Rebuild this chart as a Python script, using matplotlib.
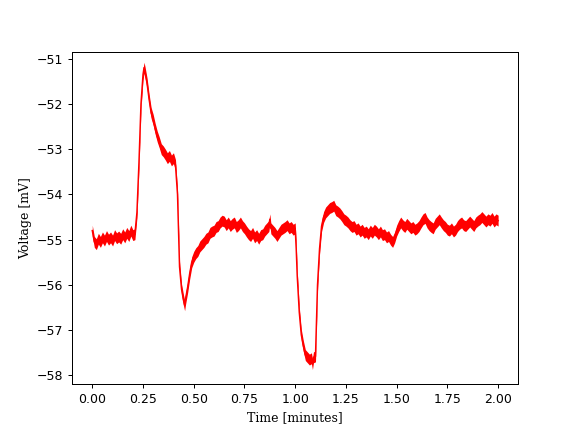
import matplotlib
matplotlib.use("Agg")
import matplotlib.pyplot as plt
import numpy as np

# membrane voltage trace (minutes, mV)
time_min = [
    0.00, 0.01, 0.02, 0.03, 0.04, 0.05, 0.06, 0.07, 0.08, 0.09,
    0.10, 0.11, 0.12, 0.13, 0.14, 0.15, 0.16, 0.17, 0.18, 0.19,
    0.20, 0.21, 0.22, 0.23, 0.24, 0.25, 0.255, 0.26, 0.27, 0.28, 0.29,
    0.30, 0.31, 0.32, 0.33, 0.34, 0.35, 0.36, 0.37, 0.38, 0.39,
    0.40, 0.41, 0.42, 0.43, 0.44, 0.45, 0.455, 0.46, 0.47, 0.48, 0.49,
    0.50, 0.51, 0.52, 0.53, 0.54, 0.55, 0.56, 0.57, 0.58, 0.59,
    0.60, 0.61, 0.62, 0.63, 0.64, 0.65, 0.66, 0.67, 0.68, 0.69,
    0.70, 0.71, 0.72, 0.73, 0.74, 0.75, 0.76, 0.77, 0.78, 0.79,
    0.80, 0.81, 0.82, 0.83, 0.84, 0.85, 0.86, 0.87, 0.875, 0.88, 0.89,
    0.90, 0.91, 0.92, 0.93, 0.94, 0.95, 0.96, 0.97, 0.98, 0.99,
    1.00, 1.005, 1.01, 1.02, 1.03, 1.04, 1.05, 1.06, 1.07, 1.08, 1.085, 1.09,
    1.10, 1.105, 1.11, 1.12, 1.13, 1.14, 1.15, 1.16, 1.17, 1.18, 1.19,
    1.20, 1.21, 1.22, 1.23, 1.24, 1.25, 1.26, 1.27, 1.28, 1.29,
    1.30, 1.31, 1.32, 1.33, 1.34, 1.35, 1.36, 1.37, 1.38, 1.39,
    1.40, 1.41, 1.42, 1.43, 1.44, 1.45, 1.46, 1.47, 1.48, 1.49,
    1.50, 1.51, 1.52, 1.53, 1.54, 1.55, 1.56, 1.57, 1.58, 1.59,
    1.60, 1.61, 1.62, 1.63, 1.64, 1.65, 1.66, 1.67, 1.68, 1.69,
    1.70, 1.71, 1.72, 1.73, 1.74, 1.75, 1.76, 1.77, 1.78, 1.79,
    1.80, 1.81, 1.82, 1.83, 1.84, 1.85, 1.86, 1.87, 1.88, 1.89,
    1.90, 1.91, 1.92, 1.93, 1.94, 1.95, 1.96, 1.97, 1.98, 1.99, 2.00,
]
voltage_mv = [
    -54.80, -55.05, -55.10, -54.98, -55.05, -54.95, -55.02, -54.92, -55.00, -54.95,
    -55.02, -54.90, -54.97, -54.93, -54.98, -54.88, -54.95, -54.85, -54.92, -54.80,
    -54.90, -54.88, -54.40, -53.30, -52.00, -51.35, -51.20, -51.30, -51.55, -51.90, -52.20,
    -52.35, -52.55, -52.72, -52.85, -53.00, -53.05, -53.12, -53.20, -53.15, -53.25,
    -53.20, -53.35, -54.00, -55.60, -56.10, -56.35, -56.45, -56.30, -56.05, -55.75, -55.50,
    -55.38, -55.30, -55.25, -55.15, -55.10, -55.05, -54.98, -54.95, -54.85, -54.82,
    -54.80, -54.72, -54.70, -54.62, -54.58, -54.60, -54.68, -54.62, -54.70, -54.65,
    -54.62, -54.72, -54.68, -54.62, -54.70, -54.75, -54.82, -54.88, -54.92, -54.85,
    -54.95, -54.90, -54.98, -54.90, -54.88, -54.80, -54.75, -54.70, -54.55, -54.75, -54.80,
    -54.85, -54.92, -54.85, -54.78, -54.75, -54.72, -54.68, -54.75, -54.72, -54.78,
    -54.75, -55.20, -55.80, -56.60, -57.10, -57.35, -57.55, -57.60, -57.65, -57.62, -57.75, -57.60,
    -57.58, -56.80, -56.00, -55.20, -54.70, -54.50, -54.40, -54.35, -54.30, -54.28, -54.25,
    -54.35, -54.38, -54.42, -54.48, -54.55, -54.58, -54.62, -54.68, -54.72, -54.70,
    -54.78, -54.75, -54.82, -54.78, -54.85, -54.82, -54.88, -54.80, -54.85, -54.78,
    -54.82, -54.88, -54.82, -54.90, -54.88, -54.95, -54.92, -55.00, -55.05, -54.95,
    -54.80, -54.70, -54.62, -54.68, -54.72, -54.65, -54.70, -54.75, -54.72, -54.78,
    -54.75, -54.70, -54.62, -54.55, -54.52, -54.62, -54.68, -54.72, -54.75, -54.65,
    -54.60, -54.55, -54.62, -54.68, -54.72, -54.78, -54.80, -54.75, -54.82, -54.78,
    -54.70, -54.65, -54.62, -54.68, -54.70, -54.65, -54.60, -54.65, -54.70, -54.62,
    -54.58, -54.55, -54.50, -54.55, -54.60, -54.55, -54.58, -54.52, -54.60, -54.55, -54.58,
]
# half-width of the recording noise band around the trace (mV)
noise_halfwidth = 0.12

t = np.array(time_min)
v = np.array(voltage_mv)

fig, ax = plt.subplots(figsize=(6.4, 4.8), dpi=90)
ax.fill_between(t, v - noise_halfwidth, v + noise_halfwidth,
                color="red", linewidth=0)
ax.plot(t, v, color="red", linewidth=1.2)

ax.set_xlim(-0.1, 2.1)
ax.set_ylim(-58.2, -50.85)
ax.set_xticks([0.0, 0.25, 0.5, 0.75, 1.0, 1.25, 1.5, 1.75, 2.0])
ax.set_xlabel("Time [minutes]", family="DejaVu Serif")
ax.set_ylabel("Voltage [mV]", family="DejaVu Serif")

fig.savefig("out.png")
